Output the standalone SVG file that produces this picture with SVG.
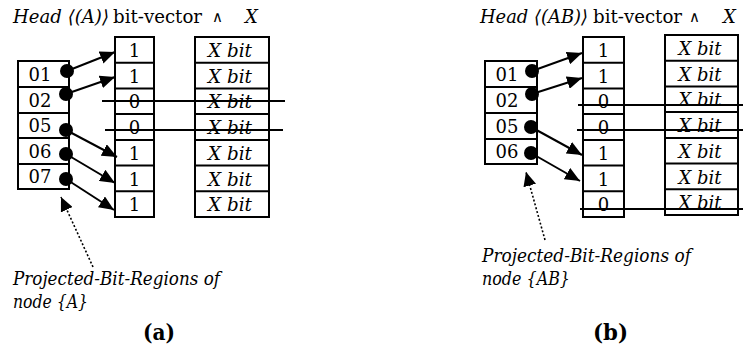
<svg xmlns="http://www.w3.org/2000/svg" width="743" height="350" viewBox="0 0 743 350">
<style>
  text { font-family: 'DejaVu Serif', serif; fill: #000; }
  .t { font-size: 18px; }
  .i { font-style: italic; }
  .and { font-size: 15px; }
  .c { font-size: 18px; text-anchor: middle; }
  .lab { font-size: 18.5px; font-style: italic; }
  .cap { font-size: 23px; font-weight: bold; }
  .box { fill: #fff; stroke: #000; stroke-width: 2; }
  .sep { stroke: #000; stroke-width: 2; }
  .arr { stroke: #000; stroke-width: 2; fill: none; marker-end: url(#ah); }
  .dot { fill: #000; }
  .strike { stroke: #000; stroke-width: 2; }
  .dotted { stroke: #000; stroke-width: 1.6; stroke-dasharray: 2 2; fill: none; marker-end: url(#ah2); }
</style>
<defs>
  <marker id="ah" markerUnits="userSpaceOnUse" markerWidth="16" markerHeight="13" refX="15" refY="6.5" orient="auto">
    <path d="M0,0 L15,6.5 L0,13 z" fill="#000"/>
  </marker>
  <marker id="ah2" markerUnits="userSpaceOnUse" markerWidth="15" markerHeight="13" refX="14" refY="6.5" orient="auto">
    <path d="M0,0 L14,6.5 L0,13 z" fill="#000"/>
  </marker>
</defs>

<!-- Panel (a) -->
<g id="title-a">
  <text class="t i" x="13" y="23" textLength="96" lengthAdjust="spacingAndGlyphs">Head ⟨(A)⟩</text>
  <text class="t" x="113" y="23" textLength="89" lengthAdjust="spacingAndGlyphs">bit-vector</text>
  <text class="and" x="212" y="22">∧</text>
  <text class="t i" x="245" y="23">X</text>
</g>

<g id="nodes-a">
  <rect class="box" x="18" y="61" width="51" height="128"/>
  <line class="sep" x1="18" y1="87" x2="69" y2="87"/>
  <line class="sep" x1="18" y1="113" x2="69" y2="113"/>
  <line class="sep" x1="18" y1="138" x2="69" y2="138"/>
  <line class="sep" x1="18" y1="164" x2="69" y2="164"/>
  <text class="c" x="40" y="81">01</text>
  <text class="c" x="40" y="107">02</text>
  <text class="c" x="40" y="132">05</text>
  <text class="c" x="40" y="158">06</text>
  <text class="c" x="40" y="183">07</text>
</g>

<g id="bitvec-a">
  <rect class="box" x="115" y="37" width="39" height="180"/>
  <line class="sep" x1="115" y1="62.7" x2="154" y2="62.7"/>
  <line class="sep" x1="115" y1="88.4" x2="154" y2="88.4"/>
  <line class="sep" x1="115" y1="114.1" x2="154" y2="114.1"/>
  <line class="sep" x1="115" y1="139.9" x2="154" y2="139.9"/>
  <line class="sep" x1="115" y1="165.6" x2="154" y2="165.6"/>
  <line class="sep" x1="115" y1="191.3" x2="154" y2="191.3"/>
  <text class="c" x="134.5" y="57">1</text>
  <text class="c" x="134.5" y="82.7">1</text>
  <text class="c" x="134.5" y="108.4">0</text>
  <text class="c" x="134.5" y="134.1">0</text>
  <text class="c" x="134.5" y="159.9">1</text>
  <text class="c" x="134.5" y="185.6">1</text>
  <text class="c" x="134.5" y="211.3">1</text>
</g>

<g id="xvec-a">
  <rect class="box" x="195" y="37" width="74" height="180"/>
  <line class="sep" x1="195" y1="62.7" x2="269" y2="62.7"/>
  <line class="sep" x1="195" y1="88.4" x2="269" y2="88.4"/>
  <line class="sep" x1="195" y1="114.1" x2="269" y2="114.1"/>
  <line class="sep" x1="195" y1="139.9" x2="269" y2="139.9"/>
  <line class="sep" x1="195" y1="165.6" x2="269" y2="165.6"/>
  <line class="sep" x1="195" y1="191.3" x2="269" y2="191.3"/>
  <text class="c i" x="230" y="57" textLength="44" lengthAdjust="spacingAndGlyphs">X bit</text>
  <text class="c i" x="230" y="82.7" textLength="44" lengthAdjust="spacingAndGlyphs">X bit</text>
  <text class="c i" x="230" y="108.4" textLength="44" lengthAdjust="spacingAndGlyphs">X bit</text>
  <text class="c i" x="230" y="134.1" textLength="44" lengthAdjust="spacingAndGlyphs">X bit</text>
  <text class="c i" x="230" y="159.9" textLength="44" lengthAdjust="spacingAndGlyphs">X bit</text>
  <text class="c i" x="230" y="185.6" textLength="44" lengthAdjust="spacingAndGlyphs">X bit</text>
  <text class="c i" x="230" y="211.3" textLength="44" lengthAdjust="spacingAndGlyphs">X bit</text>
</g>

<g id="label-a">
  <text class="lab" x="13" y="285" textLength="207" lengthAdjust="spacingAndGlyphs">Projected-Bit-Regions of</text>
  <text class="lab" x="13" y="308" textLength="75" lengthAdjust="spacingAndGlyphs">node {A}</text>
  <text class="cap" x="143" y="340" textLength="32" lengthAdjust="spacingAndGlyphs">(a)</text>
</g>

<!-- Panel (b) -->
<g id="title-b">
  <text class="t i" x="480" y="23" textLength="108" lengthAdjust="spacingAndGlyphs">Head ⟨(AB)⟩</text>
  <text class="t" x="593" y="23" textLength="89" lengthAdjust="spacingAndGlyphs">bit-vector</text>
  <text class="and" x="689" y="22">∧</text>
  <text class="t i" x="723" y="23">X</text>
</g>

<g id="nodes-b">
  <rect class="box" x="485" y="61" width="52" height="103"/>
  <line class="sep" x1="485" y1="87" x2="537" y2="87"/>
  <line class="sep" x1="485" y1="113" x2="537" y2="113"/>
  <line class="sep" x1="485" y1="139" x2="537" y2="139"/>
  <text class="c" x="507" y="81">01</text>
  <text class="c" x="507" y="107">02</text>
  <text class="c" x="507" y="133">05</text>
  <text class="c" x="507" y="158">06</text>
</g>

<g id="bitvec-b">
  <rect class="box" x="583" y="37" width="41" height="180"/>
  <line class="sep" x1="583" y1="62.7" x2="624" y2="62.7"/>
  <line class="sep" x1="583" y1="88.4" x2="624" y2="88.4"/>
  <line class="sep" x1="583" y1="114.1" x2="624" y2="114.1"/>
  <line class="sep" x1="583" y1="139.9" x2="624" y2="139.9"/>
  <line class="sep" x1="583" y1="165.6" x2="624" y2="165.6"/>
  <line class="sep" x1="583" y1="191.3" x2="624" y2="191.3"/>
  <text class="c" x="603.5" y="57">1</text>
  <text class="c" x="603.5" y="82.7">1</text>
  <text class="c" x="603.5" y="108.4">0</text>
  <text class="c" x="603.5" y="134.1">0</text>
  <text class="c" x="603.5" y="159.9">1</text>
  <text class="c" x="603.5" y="185.6">1</text>
  <text class="c" x="603.5" y="211.3">0</text>
</g>

<g id="xvec-b">
  <rect class="box" x="665" y="35" width="73" height="180"/>
  <line class="sep" x1="665" y1="60.7" x2="738" y2="60.7"/>
  <line class="sep" x1="665" y1="86.4" x2="738" y2="86.4"/>
  <line class="sep" x1="665" y1="112.1" x2="738" y2="112.1"/>
  <line class="sep" x1="665" y1="137.9" x2="738" y2="137.9"/>
  <line class="sep" x1="665" y1="163.6" x2="738" y2="163.6"/>
  <line class="sep" x1="665" y1="189.3" x2="738" y2="189.3"/>
  <text class="c i" x="700" y="55" textLength="43" lengthAdjust="spacingAndGlyphs">X bit</text>
  <text class="c i" x="700" y="80.7" textLength="43" lengthAdjust="spacingAndGlyphs">X bit</text>
  <text class="c i" x="700" y="106.4" textLength="43" lengthAdjust="spacingAndGlyphs">X bit</text>
  <text class="c i" x="700" y="132.1" textLength="43" lengthAdjust="spacingAndGlyphs">X bit</text>
  <text class="c i" x="700" y="157.9" textLength="43" lengthAdjust="spacingAndGlyphs">X bit</text>
  <text class="c i" x="700" y="183.6" textLength="43" lengthAdjust="spacingAndGlyphs">X bit</text>
  <text class="c i" x="700" y="209.3" textLength="43" lengthAdjust="spacingAndGlyphs">X bit</text>
</g>

<g id="label-b">
  <text class="lab" x="482" y="262" textLength="209" lengthAdjust="spacingAndGlyphs">Projected-Bit-Regions of</text>
  <text class="lab" x="482" y="285" textLength="88" lengthAdjust="spacingAndGlyphs">node {AB}</text>
  <text class="cap" x="593" y="340" textLength="35" lengthAdjust="spacingAndGlyphs">(b)</text>
</g>

<g id="connectors">
  <line class="strike" x1="102" y1="101" x2="285" y2="101"/>
  <line class="strike" x1="105" y1="130" x2="283" y2="130"/>
  <line class="strike" x1="578" y1="105" x2="743" y2="105"/>
  <line class="strike" x1="577" y1="130" x2="743" y2="130"/>
  <line class="strike" x1="580" y1="209" x2="743" y2="209"/>
  <line class="arr" x1="67" y1="71" x2="115" y2="52"/>
  <line class="arr" x1="66" y1="94" x2="115" y2="77"/>
  <line class="arr" x1="66" y1="130" x2="117" y2="157"/>
  <line class="arr" x1="66" y1="154" x2="115" y2="183"/>
  <line class="arr" x1="66" y1="179" x2="114" y2="210"/>
  <circle class="dot" cx="67" cy="71" r="7"/>
  <circle class="dot" cx="66" cy="94" r="7"/>
  <circle class="dot" cx="66" cy="130" r="7"/>
  <circle class="dot" cx="66" cy="154" r="7"/>
  <circle class="dot" cx="66" cy="179" r="7"/>
  <path class="dotted" d="M93,267 L61,197"/>
  <line class="arr" x1="532" y1="71" x2="582" y2="53"/>
  <line class="arr" x1="532" y1="94" x2="582" y2="78"/>
  <line class="arr" x1="531" y1="127" x2="582" y2="155"/>
  <line class="arr" x1="531" y1="153" x2="580" y2="181"/>
  <circle class="dot" cx="532" cy="71" r="7"/>
  <circle class="dot" cx="532" cy="94" r="7"/>
  <circle class="dot" cx="531" cy="127" r="7"/>
  <circle class="dot" cx="531" cy="153" r="7"/>
  <path class="dotted" d="M545,240 L526,172"/>
</g>
</svg>
